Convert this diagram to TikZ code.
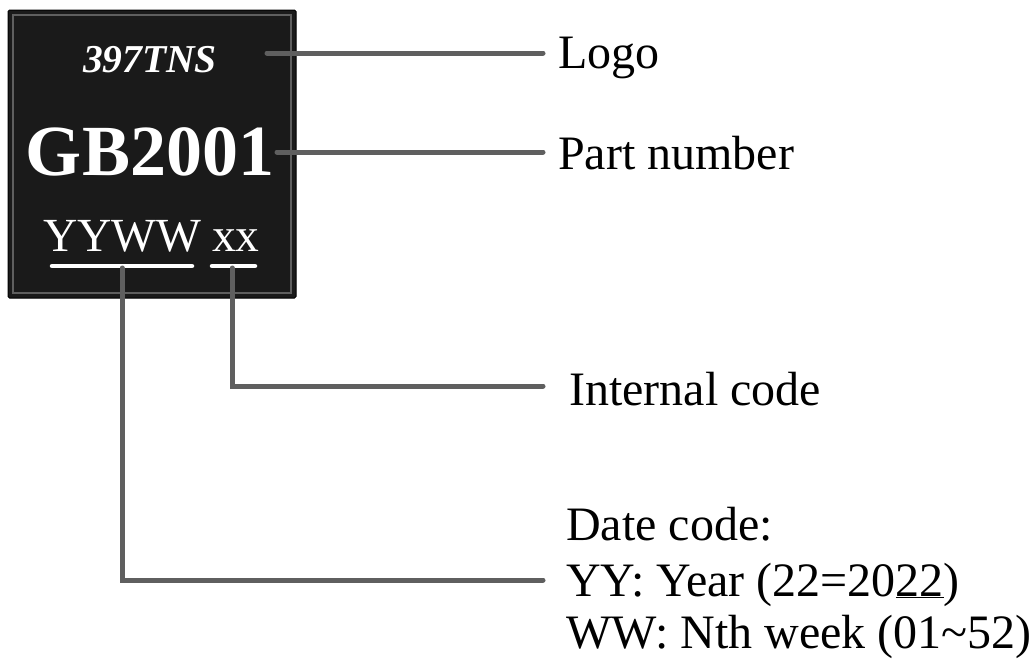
\documentclass[tikz,border=0pt]{standalone}
\usepackage{fontspec}
\setmainfont{Liberation Serif}
\begin{document}
\begin{tikzpicture}[x=1pt,y=-1pt,
  conn/.style={draw=lead,line width=5pt,line cap=round},
  uline/.style={draw=white,line width=4.5pt,line cap=round},
  chiptext/.style={text=white,inner sep=0pt},
  lbl/.style={anchor=base west,inner sep=0pt,font=\fontsize{48}{54}\selectfont}]
\definecolor{lead}{HTML}{5F5F5F}
\definecolor{chip}{HTML}{1A1A1A}
\useasboundingbox (0,0) rectangle (1035,664);
% chip body
\draw[fill=chip,draw=black,line width=1pt,rounded corners=1.5pt] (8,10) rectangle (296,298);
\node[draw=lead,line width=1.5pt,minimum width=278pt,minimum height=278pt,inner sep=0pt] (chip) at (152,154) {};
% chip texts
\node[chiptext,anchor=base,font=\fontsize{39.5}{40}\selectfont\bfseries\itshape] (logo) at (150,72) {397TNS};
\node[chiptext,anchor=base,font=\fontsize{72}{76}\selectfont\bfseries] (pn) at (150,175) {GB2001};
\node[chiptext,anchor=base west,font=\fontsize{47.5}{50}\selectfont] (yyww) at (43,251) {YYWW};
\node[chiptext,anchor=base west,font=\fontsize{47.5}{50}\selectfont] (xx) at (212,251) {xx};
% underlines
\coordinate (u1a) at (52,266); \coordinate (u1b) at (192,266);
\coordinate (u2a) at (212,266); \coordinate (u2b) at (255,266);
\draw[uline] (u1a) -- (u1b);
\draw[uline] (u2a) -- (u2b);
\coordinate (u1m) at (122,268);
\coordinate (u2m) at (232,268);
% labels
\node[lbl] (llogo) at (558,68) {Logo};
\node[lbl] (lpn) at (558,169) {Part number};
\node[lbl] (lint) at (569,405) {Internal code};
\node[lbl] (ld1) at (566,540) {Date code:};
\node[lbl] (ld2) at (566,596) {YY: Year (22=20\underline{22})};
\node[lbl] (ld3) at (566,648) {WW: Nth week (01\textasciitilde52)};
% connector ends
\coordinate (s1) at (267,53); \coordinate (e1) at (543,53);
\coordinate (s2) at (277,152); \coordinate (e2) at (543,152);
\coordinate (e3) at (543,386);
\coordinate (e4) at (543,580);
\draw[conn] (s1) -- (e1);
\draw[conn] (s2) -- (e2);
\draw[conn] (u2m) |- (e3);
\draw[conn] (u1m) |- (e4);
\end{tikzpicture}
\end{document}
